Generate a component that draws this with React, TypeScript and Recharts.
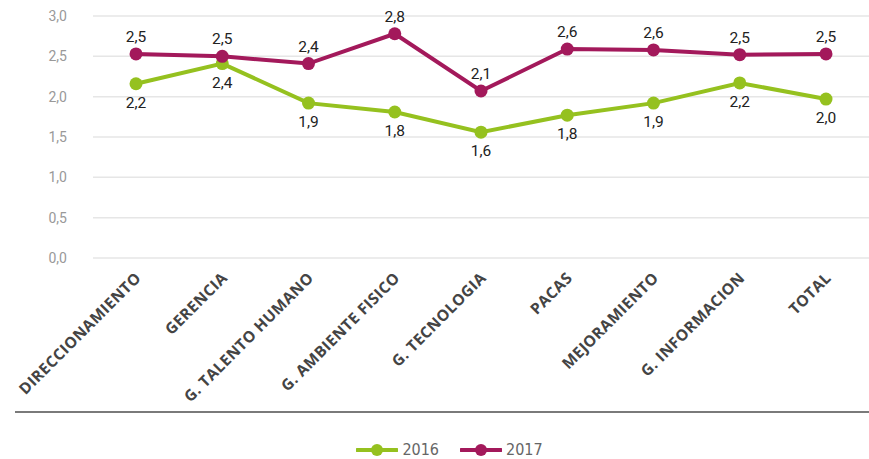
import React from 'react';
import { LineChart, Line, XAxis, YAxis, CartesianGrid, Legend, LabelList } from 'recharts';

const categories = [
    'DIRECCIONAMIENTO',
    'GERENCIA',
    'G. TALENTO HUMANO',
    'G. AMBIENTE FISICO',
    'G. TECNOLOGIA',
    'PACAS',
    'MEJORAMIENTO',
    'G. INFORMACION',
    'TOTAL',
];
const values2016 = [2.16, 2.41, 1.92, 1.81, 1.56, 1.77, 1.92, 2.17, 1.97];
const values2017 = [2.53, 2.5, 2.41, 2.78, 2.07, 2.59, 2.58, 2.52, 2.53];
const yTicks = [0, 0.5, 1, 1.5, 2, 2.5, 3];

const GREEN = '#95c11f';
const MAROON = '#a3195b';

const data = categories.map((name, i) => ({ name, y2016: values2016[i], y2017: values2017[i] }));

const fmt = (v: number) => v.toFixed(1).replace('.', ',');

const XTick = ({ x, y, payload }: any) => (
    <g transform={`translate(${x + 6},${y + 13})`}>
        <text
            x={0}
            y={0}
            textAnchor="end"
            transform="rotate(-45)"
            fill="#444"
            fontSize={15.5}
            fontWeight={700}
            letterSpacing={0.4}
            fontFamily="'Open Sans', sans-serif"
        >
            {payload.value}
        </text>
    </g>
);

const ValueLabel = ({ x, y, value, above }: any) => (
    <text
        x={x}
        y={above ? y - 12 : y + 24}
        textAnchor="middle"
        fill="#222"
        fontSize={15.5}
        fontFamily="Roboto, sans-serif"
    >
        {fmt(value)}
    </text>
);

const LegendItem = ({ color, label }: { color: string; label: string }) => (
    <div style={{ display: 'flex', alignItems: 'center', marginRight: 21, height: 18 }}>
        <svg width={42} height={14}>
            <line x1={1} y1={7} x2={41} y2={7} stroke={color} strokeWidth={4} strokeLinecap="round" />
            <circle cx={21} cy={7} r={6} fill={color} />
        </svg>
        <span style={{ marginLeft: 4, color: '#666', fontSize: 16, lineHeight: '18px', fontFamily: "'DejaVu Sans Condensed', sans-serif" }}>
            {label}
        </span>
    </div>
);

const CustomLegend = () => (
    <div style={{ height: 48, borderTop: '2px solid #7a7a7a', marginLeft: 15, boxSizing: 'border-box' }}>
        <div style={{ display: 'flex', justifyContent: 'center', paddingTop: 28, paddingLeft: 36 }}>
            <LegendItem color={GREEN} label="2016" />
            <LegendItem color={MAROON} label="2017" />
        </div>
    </div>
);

const App: React.FC = () => {
    return (
        <div style={{ position: 'absolute', left: 0, top: 0, background: '#fff' }}>
            <LineChart width={869} height={459} data={data} margin={{ top: 16, right: 0, left: 0, bottom: 0 }}>
                <CartesianGrid vertical={false} stroke="#e6e6e6" strokeWidth={1.5} />
                <XAxis
                    dataKey="name"
                    interval={0}
                    tick={<XTick />}
                    tickLine={false}
                    axisLine={false}
                    height={153}
                    padding={{ left: 43, right: 43 }}
                />
                <YAxis
                    domain={[0, 3]}
                    ticks={yTicks}
                    width={93}
                    tickFormatter={fmt}
                    tick={{ fill: '#999', fontSize: 14, fontFamily: 'Roboto, sans-serif' }}
                    tickLine={false}
                    axisLine={false}
                    tickMargin={20}
                />
                <Legend verticalAlign="bottom" height={48} content={<CustomLegend />} />
                <Line
                    dataKey="y2016"
                    name="2016"
                    stroke={GREEN}
                    strokeWidth={4}
                    dot={{ r: 6.5, fill: GREEN, stroke: GREEN, strokeWidth: 0 }}
                    isAnimationActive={false}
                >
                    <LabelList dataKey="y2016" content={(p: any) => <ValueLabel {...p} above={false} />} />
                </Line>
                <Line
                    dataKey="y2017"
                    name="2017"
                    stroke={MAROON}
                    strokeWidth={4}
                    dot={{ r: 6.5, fill: MAROON, stroke: MAROON, strokeWidth: 0 }}
                    isAnimationActive={false}
                >
                    <LabelList dataKey="y2017" content={(p: any) => <ValueLabel {...p} above />} />
                </Line>
            </LineChart>
        </div>
    );
};

export default App;
